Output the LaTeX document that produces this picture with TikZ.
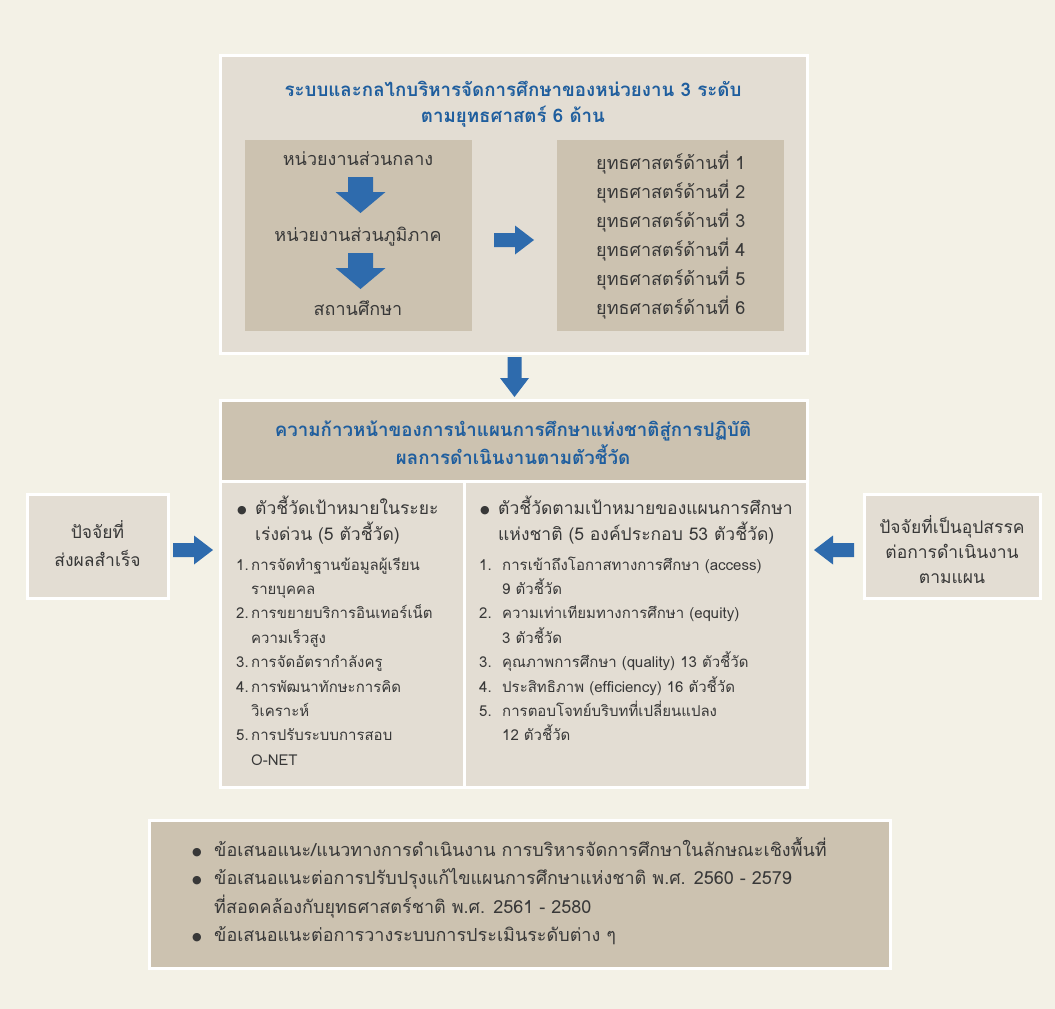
\documentclass[tikz,border=0pt]{standalone}
\usepackage{fontspec}
\setmainfont[Script=Thai]{Loma}
\newfontfamily\symfont{DejaVu Sans}
\usetikzlibrary{calc}
\definecolor{bgc}{HTML}{F3F1E6}
\definecolor{lightbox}{HTML}{E3DDD3}
\definecolor{darkbox}{HTML}{CCC2B0}
\definecolor{titleblue}{HTML}{1F5E9E}
\definecolor{arrowblue}{HTML}{2E6BAD}
\definecolor{bodytext}{HTML}{383838}
\newcommand\bul{\makebox[18pt][l]{\raisebox{1pt}{\symfont\fontsize{11}{11}\selectfont ●}}}
\newcommand\bbul{\makebox[22pt][l]{\raisebox{1pt}{\symfont\fontsize{11}{11}\selectfont ●}}}
\tikzset{
  panel/.style={draw=white, line width=3pt, inner sep=0pt, outer sep=0pt, anchor=north west},
  lightpanel/.style={panel, fill=lightbox},
  darkpanel/.style={panel, fill=darkbox},
  innerpanel/.style={fill=darkbox, inner sep=0pt, outer sep=0pt, anchor=north west},
  titletext/.style={text=titleblue, align=center, font=\bfseries\fontsize{18.7}{28}\selectfont, inner sep=0pt},
  bodytxt/.style={text=bodytext, inner sep=0pt, font=\fontsize{18}{29}\selectfont},
  listtxt/.style={text=bodytext, inner sep=0pt, anchor=base west, font=\fontsize{15}{24.4}\selectfont},
  bigdown/.pic={\fill[arrowblue] (0,-12.5) -- (15,-12.5) -- (15,-25) -- (36,0) -- (15,25) -- (15,12.5) -- (0,12.5) -- cycle;},
  smallarrow/.pic={\fill[arrowblue] (0,-7) -- (21,-7) -- (21,-14.5) -- (40,0) -- (21,14.5) -- (21,7) -- (0,7) -- cycle;}
}
\begin{document}
\begin{tikzpicture}[x=1pt,y=-1pt]
\useasboundingbox (0,0) rectangle (1055,1009);
\fill[bgc] (0,0) rectangle (1055,1009);

% ---------- top box ----------
\node[lightpanel, minimum width=587pt, minimum height=298pt] (top) at (220,55) {};
\node[titletext, anchor=base] (toptitle) at (513,96) {ระบบและกลไกบริหารจัดการศึกษาของหน่วยงาน 3 ระดับ};
\node[titletext, anchor=base] (toptitle2) at (513,122) {ตามยุทธศาสตร์ 6 ด้าน};
\node[innerpanel, minimum width=227pt, minimum height=191pt] (units) at (245,140) {};
\node[innerpanel, minimum width=227pt, minimum height=191pt] (strat) at (557,140) {};
\node[bodytxt, anchor=base] (u1) at (358,165) {หน่วยงานส่วนกลาง};
\node[bodytxt, anchor=base] (u2) at (358,241) {หน่วยงานส่วนภูมิภาค};
\node[bodytxt, anchor=base] (u3) at (358,315) {สถานศึกษา};
\pic[rotate=-90] at (360.5,177) {bigdown};
\pic[rotate=-90] at (360.5,253) {bigdown};
\pic at (494,240) {smallarrow};
\node[bodytxt, anchor=base west] (slist) at (596,169) {\begin{tabular}[t]{@{}l@{}}
ยุทธศาสตร์ด้านที่ 1\\
ยุทธศาสตร์ด้านที่ 2\\
ยุทธศาสตร์ด้านที่ 3\\
ยุทธศาสตร์ด้านที่ 4\\
ยุทธศาสตร์ด้านที่ 5\\
ยุทธศาสตร์ด้านที่ 6
\end{tabular}};

% connector arrow top -> middle
\pic[rotate=-90] at (514.5,357) {smallarrow};

% ---------- middle box ----------
\node[darkpanel, minimum width=587pt, minimum height=81pt] (midhead) at (220,400) {};
\node[lightpanel, minimum width=244pt, minimum height=306pt] (midleft) at (220,481) {};
\node[lightpanel, minimum width=343pt, minimum height=306pt] (midright) at (464,481) {};
\node[titletext, anchor=base] (midtitle) at (513,436) {ความก้าวหน้าของการนำแผนการศึกษาแห่งชาติสู่การปฏิบัติ};
\node[titletext, anchor=base] (midtitle2) at (513,464) {ผลการดำเนินงานตามตัวชี้วัด};

\node[bodytxt, anchor=base west, font=\fontsize{17.5}{25}\selectfont] (lhead) at (237,514) {\begin{tabular}[t]{@{}l@{}}
\bul ตัวชี้วัดเป้าหมายในระยะ\\
\hspace{18pt}เร่งด่วน (5 ตัวชี้วัด)
\end{tabular}};
\node[bodytxt, anchor=base west, font=\fontsize{17.5}{25}\selectfont] (rhead) at (480,514) {\begin{tabular}[t]{@{}l@{}}
\bul ตัวชี้วัดตามเป้าหมายของแผนการศึกษา\\
\hspace{18pt}แห่งชาติ (5 องค์ประกอบ 53 ตัวชี้วัด)
\end{tabular}};

\node[listtxt] (llist) at (236,570) {\begin{tabular}[t]{@{}l@{}l@{}}
\makebox[15pt][l]{1.} & การจัดทำฐานข้อมูลผู้เรียน\\
 & รายบุคคล\\
2. & การขยายบริการอินเทอร์เน็ต\\
 & ความเร็วสูง\\
3. & การจัดอัตรากำลังครู\\
4. & การพัฒนาทักษะการคิด\\
 & วิเคราะห์\\
5. & การปรับระบบการสอบ\\
 & O-NET
\end{tabular}};
\node[listtxt] (rlist) at (479,570) {\begin{tabular}[t]{@{}l@{}l@{}}
\makebox[23pt][l]{1.} & การเข้าถึงโอกาสทางการศึกษา (access)\\
 & 9 ตัวชี้วัด\\
2. & ความเท่าเทียมทางการศึกษา (equity)\\
 & 3 ตัวชี้วัด\\
3. & คุณภาพการศึกษา (quality) 13 ตัวชี้วัด\\
4. & ประสิทธิภาพ (efficiency) 16 ตัวชี้วัด\\
5. & การตอบโจทย์บริบทที่เปลี่ยนแปลง\\
 & 12 ตัวชี้วัด
\end{tabular}};

% ---------- side boxes ----------
\node[lightpanel, minimum width=141pt, minimum height=104pt] (success) at (27,494) {};
\node[bodytxt, align=center, anchor=base, font=\fontsize{17.5}{28}\selectfont] (successtxt) at (97.5,566) {ปัจจัยที่\\ส่งผลสำเร็จ};
\pic at (173,550) {smallarrow};
\node[lightpanel, minimum width=176pt, minimum height=104pt] (obstacle) at (864,494) {};
\node[bodytxt, align=center, anchor=base, font=\fontsize{17.5}{25}\selectfont] (obstacletxt) at (952,583) {ปัจจัยที่เป็นอุปสรรค\\ต่อการดำเนินงาน\\ตามแผน};
\pic[rotate=180] at (854,550) {smallarrow};

% ---------- bottom box ----------
\node[darkpanel, minimum width=741pt, minimum height=148pt] (bottom) at (149,820) {};
\node[bodytxt, anchor=base west, font=\fontsize{18}{28.5}\selectfont] (blist) at (192,856) {\begin{tabular}[t]{@{}l@{}}
\bbul ข้อเสนอแนะ/แนวทางการดำเนินงาน การบริหารจัดการศึกษาในลักษณะเชิงพื้นที่\\
\bbul ข้อเสนอแนะต่อการปรับปรุงแก้ไขแผนการศึกษาแห่งชาติ พ.ศ. 2560 - 2579\\
\hspace{22pt}ที่สอดคล้องกับยุทธศาสตร์ชาติ พ.ศ. 2561 - 2580\\
\bbul ข้อเสนอแนะต่อการวางระบบการประเมินระดับต่าง ๆ
\end{tabular}};
\end{tikzpicture}
\end{document}
